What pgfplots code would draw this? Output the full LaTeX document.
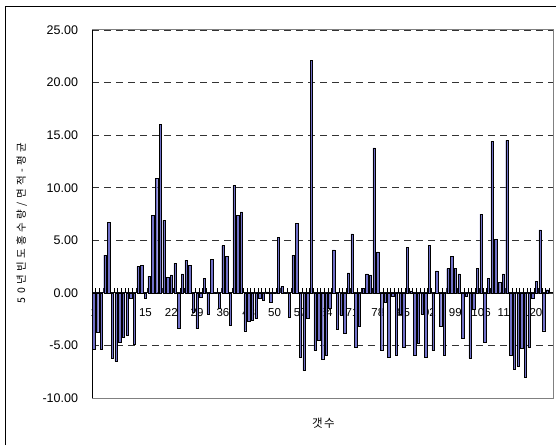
\documentclass[border=0pt]{standalone}
\usepackage{pgfplots}
\pgfplotsset{compat=1.18}
\usepackage{fontspec}
\setmainfont{Liberation Sans}
\newfontfamily\kr{Noto Sans CJK KR}
\definecolor{barblue}{RGB}{112,112,200}
\definecolor{framegray}{RGB}{128,128,128}
\newcommand{\g}{\hspace{3.4pt}}
\begin{document}
\begin{tikzpicture}[x=1pt,y=1pt]
\begin{axis}[
  set layers,
  at={(92pt,47pt)}, anchor=south west,
  width=461pt, height=368pt, scale only axis,
  xmin=0.5, xmax=125.5, ymin=-10, ymax=25,
  enlargelimits=false,
  axis x line*=middle, axis y line*=left,
  axis line style={black, line width=0.8pt},
  xtick={0.5,1.5,...,125.5},
  xticklabels={},
  extra x ticks={1,8,...,120},
  extra x tick style={xtick style={draw=none}},
  extra x tick labels={1,8,15,22,29,36,43,50,57,64,71,78,85,92,99,106,113,120},
  xtick style={black, line width=0.8pt},
  ytick style={draw=none},
  ytick={-10,-5,...,25},
  major tick length=4.5pt,
  tick align=inside,
  ymajorgrids,
  grid style={black!80, dash pattern=on 7pt off 5pt, line width=0.7pt},
  /pgf/number format/assume math mode=true,
  yticklabel={\pgfmathprintnumber[fixed,fixed zerofill,precision=2]{\tick}},
  yticklabel style={font=\fontsize{12.5}{14}\selectfont, xshift=-10.5pt},
  xticklabel style={font=\fontsize{11.5}{13}\selectfont, yshift=-12pt},
  xlabel={\kr 갯\hspace{1.5pt}수},
  ylabel={\kr 5\g 0\g 년\g 빈\g 도\g 홍\g 수\g 량\g /\g 면\g 적\g -\g 평\g 균},
  xlabel style={at={(axis description cs:0.502,-0.068)}, anchor=center, font=\fontsize{11.5}{13}\selectfont},
  ylabel style={at={(axis description cs:-0.1525,0.4755)}, anchor=center, font=\fontsize{10.5}{12}\selectfont},
  clip=false,
]
\addplot[ybar, bar width=2.4pt, bar shift=0pt, fill=barblue, draw=black, line width=0.4pt] coordinates {
(1,-5.4) (2,-3.7) (3,-5.4) (4,3.6) (5,6.7) (6,-6.2) (7,-6.5) (8,-4.7) (9,-4.2) (10,-4.0)
(11,-0.5) (12,-4.9) (13,2.5) (14,2.6) (15,-0.5) (16,1.6) (17,7.4) (18,10.9) (19,16.0) (20,6.9)
(21,1.5) (22,1.7) (23,2.8) (24,-3.4) (25,1.8) (26,3.1) (27,2.6) (28,-1.8) (29,-3.4) (30,-0.4)
(31,1.4) (32,-2.0) (33,3.2) (34,0) (35,-1.5) (36,4.5) (37,3.5) (38,-3.1) (39,10.2) (40,7.4)
(41,7.7) (42,-3.6) (43,-2.7) (44,-2.6) (45,-2.4) (46,-0.5) (47,-0.7) (48,0.1) (49,-0.9) (50,0)
(51,5.3) (52,0.6) (53,0) (54,-2.3) (55,3.6) (56,6.6) (57,-6.1) (58,-7.4) (59,-2.4) (60,22.1)
(61,-5.5) (62,-4.5) (63,-6.3) (64,-5.9) (65,-1.5) (66,4.1) (67,-3.5) (68,-2.1) (69,-3.8) (70,1.9)
(71,5.6) (72,-5.2) (73,-3.2) (74,0.4) (75,1.8) (76,1.7) (77,13.8) (78,3.9) (79,-5.5) (80,-0.9)
(81,-6.1) (82,-0.3) (83,-5.9) (84,-2.0) (85,-5.2) (86,4.3) (87,0.2) (88,-5.9) (89,-4.8) (90,-2.0)
(91,-6.1) (92,4.5) (93,-5.5) (94,2.1) (95,-3.2) (96,-5.9) (97,2.3) (98,3.5) (99,2.3) (100,1.8)
(101,-4.3) (102,-0.3) (103,-6.2) (104,-1.6) (105,2.3) (106,7.5) (107,-4.7) (108,1.4) (109,14.4) (110,5.1)
(111,1.0) (112,1.8) (113,14.5) (114,-5.9) (115,-7.3) (116,-7.0) (117,-5.3) (118,-8.0) (119,-5.2) (120,-0.5)
(121,1.1) (122,6.0) (123,-3.6) (124,0.3)
};
\draw[framegray, line width=1pt] (rel axis cs:0,0) -- (rel axis cs:1,0) -- (rel axis cs:1,1) -- (rel axis cs:0,1);
\draw[black, line width=0.8pt] (rel axis cs:0,0) -- (rel axis cs:0,1);
\end{axis}
\draw[line width=1pt] (5.5,0) -- (5.5,438.5) -- (556,438.5);
\pgfresetboundingbox
\useasboundingbox (0,0) rectangle (556,445);
\end{tikzpicture}
\end{document}
